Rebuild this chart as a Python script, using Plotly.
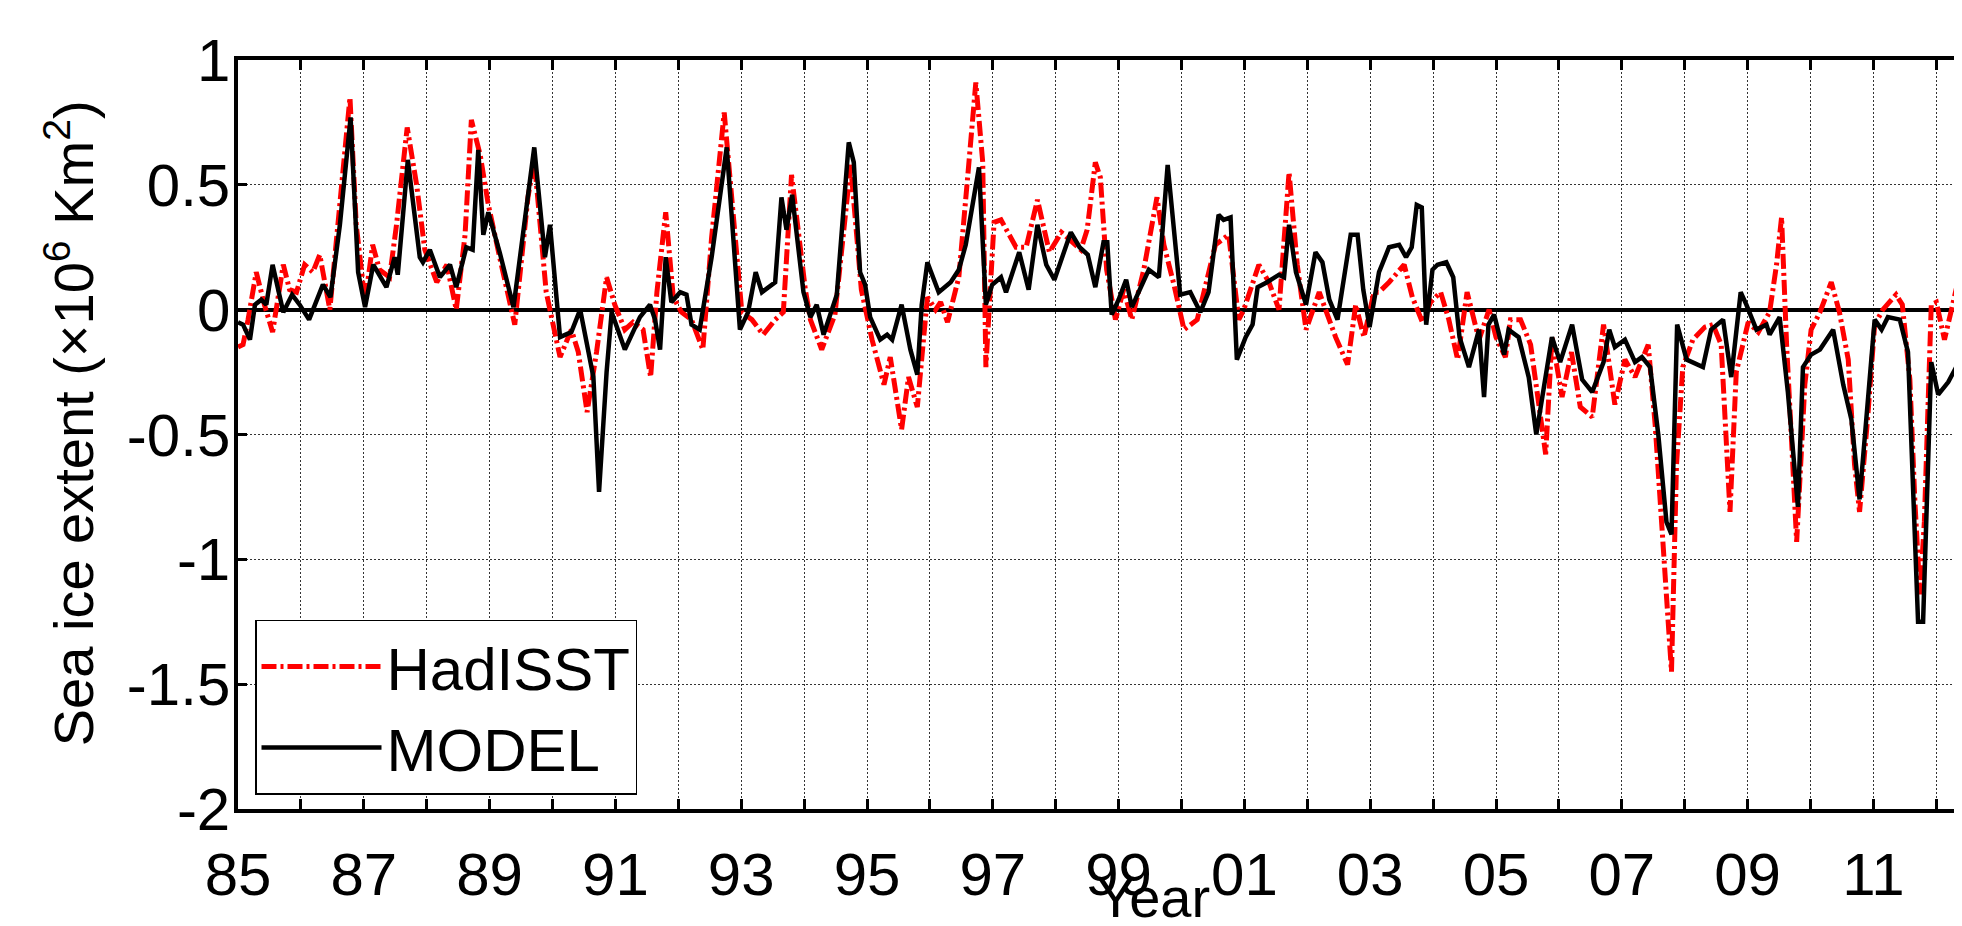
import plotly.graph_objects as go

# ---- data (decimal year, anomaly in 10^6 km^2) ----
model_t = [1985.00, 1985.08, 1985.19, 1985.27, 1985.37, 1985.45, 1985.55, 1985.72, 1985.86, 1985.98,
           1986.13, 1986.35, 1986.47, 1986.62, 1986.79, 1986.91, 1987.02, 1987.15, 1987.36, 1987.49,
           1987.54, 1987.70, 1987.89, 1987.94, 1988.05, 1988.21, 1988.37, 1988.47, 1988.63, 1988.73,
           1988.82, 1988.90, 1988.98, 1989.16, 1989.38, 1989.71, 1989.88, 1989.96, 1990.12, 1990.30,
           1990.44, 1990.65, 1990.74, 1990.86, 1990.94, 1991.15, 1991.39, 1991.55, 1991.63, 1991.71,
           1991.80, 1991.89, 1992.03, 1992.13, 1992.21, 1992.34, 1992.53, 1992.77, 1992.98, 1993.11,
           1993.23, 1993.33, 1993.54, 1993.64, 1993.72, 1993.81, 1993.99, 1994.10, 1994.20, 1994.31,
           1994.52, 1994.71, 1994.79, 1994.89, 1994.97, 1995.05, 1995.21, 1995.32, 1995.40, 1995.55,
           1995.69, 1995.80, 1995.87, 1995.96, 1996.14, 1996.33, 1996.46, 1996.57, 1996.78, 1996.89,
           1996.99, 1997.13, 1997.21, 1997.42, 1997.57, 1997.71, 1997.85, 1997.98, 1998.24, 1998.38,
           1998.51, 1998.63, 1998.76, 1998.82, 1998.89, 1999.00, 1999.12, 1999.21, 1999.48, 1999.64,
           1999.78, 1999.98, 2000.14, 2000.30, 2000.43, 2000.59, 2000.67, 2000.78, 2000.88, 2001.02,
           2001.13, 2001.21, 2001.36, 2001.55, 2001.63, 2001.71, 2001.82, 2001.98, 2002.13, 2002.24,
           2002.35, 2002.48, 2002.69, 2002.80, 2002.89, 2002.99, 2003.14, 2003.30, 2003.46, 2003.57,
           2003.66, 2003.74, 2003.82, 2003.89, 2003.99, 2004.07, 2004.21, 2004.32, 2004.42, 2004.57,
           2004.73, 2004.81, 2004.88, 2004.97, 2005.13, 2005.20, 2005.36, 2005.52, 2005.64, 2005.89,
           2006.02, 2006.21, 2006.37, 2006.53, 2006.71, 2006.80, 2006.89, 2007.05, 2007.21, 2007.32,
           2007.45, 2007.58, 2007.71, 2007.79, 2007.88, 2008.03, 2008.29, 2008.42, 2008.61, 2008.74,
           2008.89, 2008.98, 2009.14, 2009.30, 2009.35, 2009.51, 2009.64, 2009.80, 2009.88, 2010.01,
           2010.15, 2010.36, 2010.52, 2010.65, 2010.78, 2010.89, 2011.02, 2011.13, 2011.23, 2011.42,
           2011.55, 2011.71, 2011.79, 2011.92, 2012.03, 2012.19, 2012.40, 2012.55]
model_v = [-0.05, -0.06, -0.12, 0.02, 0.04, 0.02, 0.18, -0.01, 0.06, 0.02,
           -0.04, 0.10, 0.05, 0.34, 0.77, 0.15, 0.01, 0.18, 0.09, 0.21,
           0.14, 0.60, 0.21, 0.19, 0.24, 0.13, 0.18, 0.09, 0.25, 0.24,
           0.64, 0.30, 0.39, 0.23, 0.01, 0.65, 0.21, 0.34, -0.11, -0.09,
           0.00, -0.27, -0.73, -0.25, -0.01, -0.16, -0.03, 0.02, -0.04, -0.16,
           0.21, 0.03, 0.07, 0.06, -0.06, -0.08, 0.21, 0.65, -0.08, -0.01,
           0.15, 0.07, 0.11, 0.45, 0.32, 0.46, 0.07, -0.03, 0.02, -0.10,
           0.06, 0.67, 0.59, 0.15, 0.10, -0.03, -0.12, -0.10, -0.12, 0.02,
           -0.16, -0.26, 0.02, 0.19, 0.07, 0.11, 0.16, 0.26, 0.57, 0.02,
           0.10, 0.13, 0.07, 0.23, 0.08, 0.34, 0.18, 0.12, 0.31, 0.25,
           0.22, 0.09, 0.27, 0.27, -0.02, 0.04, 0.12, 0.01, 0.16, 0.13,
           0.58, 0.06, 0.07, -0.01, 0.07, 0.38, 0.36, 0.37, -0.20, -0.11,
           -0.06, 0.09, 0.11, 0.14, 0.13, 0.34, 0.15, 0.02, 0.23, 0.19,
           0.04, -0.04, 0.30, 0.30, 0.08, -0.07, 0.15, 0.25, 0.26, 0.21,
           0.25, 0.42, 0.41, -0.06, 0.16, 0.18, 0.19, 0.13, -0.11, -0.23,
           -0.08, -0.35, -0.06, -0.02, -0.18, -0.08, -0.11, -0.27, -0.50, -0.11,
           -0.21, -0.06, -0.28, -0.33, -0.21, -0.08, -0.15, -0.12, -0.21, -0.19,
           -0.23, -0.50, -0.85, -0.90, -0.06, -0.20, -0.23, -0.08, -0.04, -0.27,
           0.07, 0.02, -0.08, -0.06, -0.10, -0.03, -0.33, -0.79, -0.23, -0.18,
           -0.16, -0.08, -0.30, -0.44, -0.76, -0.43, -0.04, -0.08, -0.03, -0.04,
           -0.17, -1.25, -1.25, -0.21, -0.34, -0.29, -0.19, -0.13]

hadisst_t = [1985.00, 1985.08, 1985.16, 1985.29, 1985.42, 1985.55, 1985.72, 1985.82, 1985.93, 1986.06,
             1986.19, 1986.30, 1986.46, 1986.62, 1986.78, 1986.88, 1987.02, 1987.14, 1987.25, 1987.41,
             1987.52, 1987.69, 1987.84, 1987.97, 1988.16, 1988.32, 1988.47, 1988.61, 1988.71, 1988.85,
             1988.98, 1989.16, 1989.40, 1989.61, 1989.71, 1989.80, 1989.90, 1990.12, 1990.30, 1990.41,
             1990.55, 1990.70, 1990.86, 1990.99, 1991.15, 1991.28, 1991.44, 1991.56, 1991.66, 1991.80,
             1991.92, 1992.05, 1992.21, 1992.39, 1992.53, 1992.73, 1992.88, 1993.01, 1993.17, 1993.35,
             1993.54, 1993.67, 1993.80, 1993.91, 1994.02, 1994.10, 1994.28, 1994.49, 1994.63, 1994.74,
             1994.91, 1995.08, 1995.27, 1995.37, 1995.55, 1995.66, 1995.80, 1995.96, 1996.09, 1996.17,
             1996.28, 1996.46, 1996.60, 1996.73, 1996.84, 1996.89, 1997.02, 1997.13, 1997.37, 1997.53,
             1997.71, 1997.90, 1998.09, 1998.40, 1998.50, 1998.63, 1998.71, 1998.81, 1998.95, 1999.08,
             1999.21, 1999.40, 1999.61, 1999.72, 1999.88, 2000.04, 2000.25, 2000.54, 2000.75, 2000.91,
             2000.99, 2001.23, 2001.39, 2001.55, 2001.71, 2001.84, 2001.98, 2002.19, 2002.29, 2002.45,
             2002.64, 2002.77, 2002.90, 2003.06, 2003.14, 2003.30, 2003.54, 2003.67, 2003.83, 2003.96,
             2004.12, 2004.25, 2004.39, 2004.54, 2004.73, 2004.89, 2005.00, 2005.15, 2005.23, 2005.39,
             2005.55, 2005.68, 2005.79, 2005.89, 2006.05, 2006.20, 2006.34, 2006.53, 2006.71, 2006.89,
             2007.05, 2007.21, 2007.42, 2007.53, 2007.66, 2007.79, 2007.87, 2007.97, 2008.13, 2008.32,
             2008.45, 2008.58, 2008.72, 2008.82, 2009.01, 2009.17, 2009.35, 2009.46, 2009.54, 2009.62,
             2009.71, 2009.78, 2009.91, 2010.01, 2010.15, 2010.33, 2010.46, 2010.60, 2010.70, 2010.78,
             2010.91, 2011.02, 2011.15, 2011.36, 2011.46, 2011.58, 2011.66, 2011.74, 2011.81, 2011.92,
             2012.00, 2012.13, 2012.26, 2012.34, 2012.45, 2012.55]
hadisst_v = [-0.15, -0.14, -0.04, 0.15, 0.02, -0.09, 0.18, 0.08, 0.07, 0.18,
             0.15, 0.22, 0.00, 0.42, 0.85, 0.34, 0.03, 0.26, 0.16, 0.13,
             0.34, 0.73, 0.50, 0.24, 0.11, 0.18, 0.00, 0.30, 0.76, 0.62,
             0.42, 0.21, -0.06, 0.45, 0.60, 0.35, 0.07, -0.19, -0.08, -0.17,
             -0.41, -0.17, 0.13, 0.02, -0.08, -0.05, -0.08, -0.27, 0.07, 0.39,
             0.05, -0.01, -0.04, -0.16, 0.29, 0.79, 0.37, -0.01, -0.04, -0.10,
             -0.04, -0.01, 0.54, 0.30, 0.08, -0.04, -0.16, -0.02, 0.30, 0.58,
             0.08, -0.12, -0.30, -0.19, -0.48, -0.27, -0.39, 0.05, 0.00, 0.03,
             -0.05, 0.13, 0.53, 0.91, 0.59, -0.23, 0.35, 0.36, 0.25, 0.25,
             0.44, 0.23, 0.31, 0.24, 0.32, 0.59, 0.53, 0.16, -0.04, 0.08,
             -0.04, 0.16, 0.45, 0.26, 0.10, -0.08, -0.04, 0.26, 0.30, -0.04,
             0.00, 0.18, 0.11, 0.00, 0.55, 0.18, -0.08, 0.07, 0.00, -0.11,
             -0.22, 0.02, -0.11, 0.07, 0.07, 0.11, 0.18, 0.05, -0.05, 0.03,
             0.07, -0.04, -0.20, 0.07, -0.12, 0.00, -0.11, -0.19, -0.04, -0.04,
             -0.14, -0.39, -0.58, -0.11, -0.35, -0.17, -0.39, -0.43, -0.06, -0.38,
             -0.20, -0.27, -0.14, -0.46, -0.93, -1.45, -0.62, -0.23, -0.12, -0.07,
             -0.06, -0.14, -0.81, -0.25, -0.05, -0.09, -0.01, 0.18, 0.37, -0.14,
             -0.58, -0.93, -0.30, -0.08, -0.01, 0.11, -0.01, -0.20, -0.62, -0.81,
             -0.43, -0.06, 0.00, 0.06, 0.02, -0.28, -0.77, -1.14, -0.85, 0.02,
             0.03, -0.12, 0.02, 0.11, 0.23, 0.05]

series_names = ["HadISST", "MODEL"]

x_label_years = list(range(1985, 2013, 2))
x_tick_labels = [f"{y % 100:02d}" for y in x_label_years]
y_tick_values = [-2, -1.5, -1, -0.5, 0, 0.5, 1]
y_tick_labels = ["-2", "-1.5", "-1", "-0.5", "0", "0.5", "1"]
x_title = "Year"
y_title = "Sea ice extent (\u00d710<sup>6</sup> Km<sup>2</sup>)"

FONT = "Liberation Sans, Arial, sans-serif"
W, H = 1962, 926
ML, MT, MB = 230, 52, 125
PW, PH = W - ML, H - MT - MB
GRID = dict(showgrid=True, gridcolor="#333333", gridwidth=1.2, griddash="2px,2px")

fig = go.Figure()
fig.add_trace(go.Scatter(
    x=hadisst_t, y=hadisst_v, mode="lines", name=series_names[0],
    line=dict(color="#ff0000", width=5, dash="15px,4px,3px,4px"),
))
fig.add_trace(go.Scatter(
    x=model_t, y=model_v, mode="lines", name=series_names[1],
    line=dict(color="#000000", width=4.5),
))

fig.update_layout(
    width=W, height=H,
    margin=dict(l=ML, r=0, t=MT, b=MB, autoexpand=False),
    paper_bgcolor="white", plot_bgcolor="white",
    font=dict(family=FONT, size=60, color="black"),
    showlegend=True,
    legend=dict(
        xref="container", yref="container",
        x=247 / W, y=(H - 699) / H, xanchor="left", yanchor="middle",
        bgcolor="white", bordercolor="black", borderwidth=1.5,
        font=dict(family=FONT, size=60, color="black"),
        itemwidth=120, tracegroupgap=0,
    ),
    xaxis=dict(
        range=[1985, 1985 + PW / 62.9],
        tickmode="array", tickvals=x_label_years, ticktext=x_tick_labels,
        ticks="inside", ticklen=10, tickwidth=3, tickcolor="black",
        ticklabelstandoff=10,
        minor=dict(tick0=1985, dtick=1, ticks="inside", ticklen=10, tickwidth=3,
                   tickcolor="black", **GRID),
        showline=True, linewidth=3.5, linecolor="black", mirror="ticks",
        zeroline=False,
        tickfont=dict(family=FONT, size=60, color="black"),
        **GRID,
    ),
    yaxis=dict(
        range=[-2, 1],
        tickmode="array", tickvals=y_tick_values, ticktext=y_tick_labels,
        ticks="inside", ticklen=9, tickwidth=3, tickcolor="black",
        ticklabelstandoff=-8,
        showline=True, linewidth=3.5, linecolor="black", mirror=False,
        zeroline=True, zerolinecolor="black", zerolinewidth=3.5,
        tickfont=dict(family=FONT, size=60, color="black"),
        **GRID,
    ),
    annotations=[
        dict(text=x_title, xref="paper", yref="paper",
             x=(1145 - ML) / PW, y=-MB / PH, yshift=3,
             xanchor="center", yanchor="bottom", showarrow=False,
             font=dict(family=FONT, size=56, color="black")),
        dict(text=y_title, xref="paper", yref="paper",
             x=(62 - ML) / PW, y=0.515, textangle=-90,
             xanchor="center", yanchor="middle", showarrow=False,
             font=dict(family=FONT, size=56, color="black")),
    ],
)

fig.write_html("out.html")
